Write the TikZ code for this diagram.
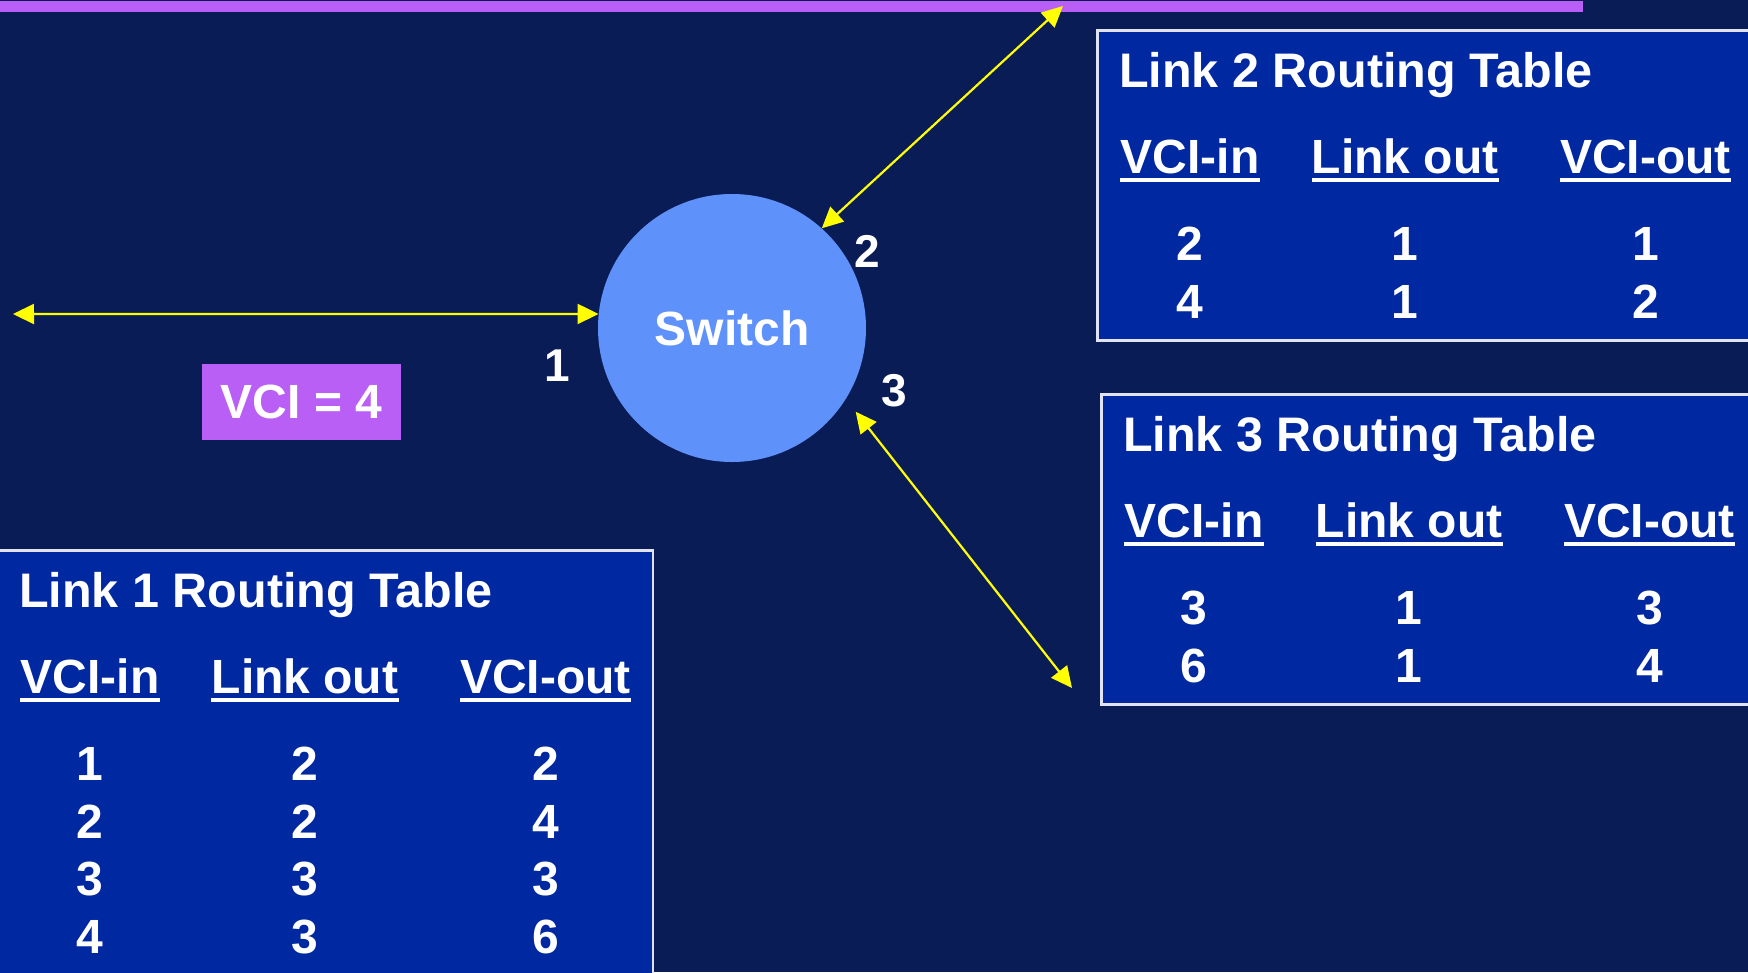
\documentclass[tikz,border=0pt]{standalone}
\usepackage{fontspec}
\setmainfont{Liberation Sans}
\usetikzlibrary{arrows.meta}
\definecolor{bgnavy}{RGB}{10,28,86}
\definecolor{tblblue}{RGB}{0,40,160}
\definecolor{swblue}{RGB}{95,145,250}
\definecolor{barpurple}{RGB}{185,95,245}
\definecolor{linkyellow}{RGB}{255,255,0}
\definecolor{bordergrey}{RGB}{225,228,240}
\begin{document}
\begin{tikzpicture}[x=1pt,y=-1pt,
  txt/.style={text=white,font=\bfseries\fontsize{48}{48}\selectfont,inner sep=0pt},
  ttl/.style={txt,font=\bfseries\fontsize{48.5}{48.5}\selectfont,anchor=base west},
  hdr/.style={txt,anchor=base},
  num/.style={txt,anchor=base},
  port/.style={txt,font=\bfseries\fontsize{46}{46}\selectfont},
  tblbox/.style={fill=tblblue,draw=bordergrey,line width=2.5pt,anchor=north west,inner sep=0pt},
  link/.style={draw=linkyellow,line width=2.2pt,{Triangle[length=21pt,width=20pt]}-{Triangle[length=21pt,width=20pt]}},
  uline/.style={draw=white,line width=4.5pt}
]
\useasboundingbox (0,0) rectangle (1748,972);
\clip (0,0) rectangle (1748,972);
\fill[bgnavy] (0,0) rectangle (1748,972);
\fill[barpurple] (0,1) rectangle (1583,12);

% Link 2 table
\begin{scope}[shift={(1096,29)},name prefix=t2-]
  \node[tblbox,minimum width=700pt,minimum height=310pt] (box) at (0,0) {};
  \node[ttl] (title) at (23,58) {Link 2 Routing Table};
  \node[hdr] (h1) at (94,144) {VCI-in};
  \node[hdr] (h2) at (309,144) {Link out};
  \node[hdr] (h3) at (549.5,144) {VCI-out};
  \foreach \h in {h1,h2,h3}
    \draw[uline] ([yshift=-7pt]\h.base west) -- ([yshift=-7pt]\h.base east);
  \node[num] (a1) at (94,231) {2};
  \node[num] (a2) at (309,231) {1};
  \node[num] (a3) at (549.5,231) {1};
  \node[num] (b1) at (94,289) {4};
  \node[num] (b2) at (309,289) {1};
  \node[num] (b3) at (549.5,289) {2};
\end{scope}

% Link 3 table
\begin{scope}[shift={(1100,393)},name prefix=t3-]
  \node[tblbox,minimum width=700pt,minimum height=310pt] (box) at (0,0) {};
  \node[ttl] (title) at (23,58) {Link 3 Routing Table};
  \node[hdr] (h1) at (94,144) {VCI-in};
  \node[hdr] (h2) at (309,144) {Link out};
  \node[hdr] (h3) at (549.5,144) {VCI-out};
  \foreach \h in {h1,h2,h3}
    \draw[uline] ([yshift=-7pt]\h.base west) -- ([yshift=-7pt]\h.base east);
  \node[num] (a1) at (94,231) {3};
  \node[num] (a2) at (309,231) {1};
  \node[num] (a3) at (549.5,231) {3};
  \node[num] (b1) at (94,289) {6};
  \node[num] (b2) at (309,289) {1};
  \node[num] (b3) at (549.5,289) {4};
\end{scope}

% Link 1 table
\begin{scope}[shift={(-4,549)},name prefix=t1-]
  \node[tblbox,minimum width=655.5pt,minimum height=500pt] (box) at (0,0) {};
  \node[ttl] (title) at (23,58) {Link 1 Routing Table};
  \node[hdr] (h1) at (94,144) {VCI-in};
  \node[hdr] (h2) at (309,144) {Link out};
  \node[hdr] (h3) at (549.5,144) {VCI-out};
  \foreach \h in {h1,h2,h3}
    \draw[uline] ([yshift=-7pt]\h.base west) -- ([yshift=-7pt]\h.base east);
  \node[num] (a1) at (94,231) {1};
  \node[num] (a2) at (309,231) {2};
  \node[num] (a3) at (549.5,231) {2};
  \node[num] (b1) at (94,289) {2};
  \node[num] (b2) at (309,289) {2};
  \node[num] (b3) at (549.5,289) {4};
  \node[num] (c1) at (94,346) {3};
  \node[num] (c2) at (309,346) {3};
  \node[num] (c3) at (549.5,346) {3};
  \node[num] (d1) at (94,404) {4};
  \node[num] (d2) at (309,404) {3};
  \node[num] (d3) at (549.5,404) {6};
\end{scope}

% Switch
\node[circle,fill=swblue,minimum size=268pt,txt] (sw) at (732,328) {Switch};
\node[fill=barpurple,minimum width=199pt,minimum height=76pt,txt] (vci) at (301.5,402) {VCI = 4};
\node[port] (p1) at (557,366) {1};
\node[port] (p2) at (867,251) {2};
\node[port] (p3) at (894,391) {3};

\coordinate (e1) at (13,314);
\coordinate (e2) at (1063,6);
\coordinate (e3) at (1072,688);
\draw[link] (e1) -- (sw.174);
\draw[link] (e2) -- (sw.48);
\draw[link,shorten >=16pt] (e3) -- (sw.-32);
\end{tikzpicture}
\end{document}
